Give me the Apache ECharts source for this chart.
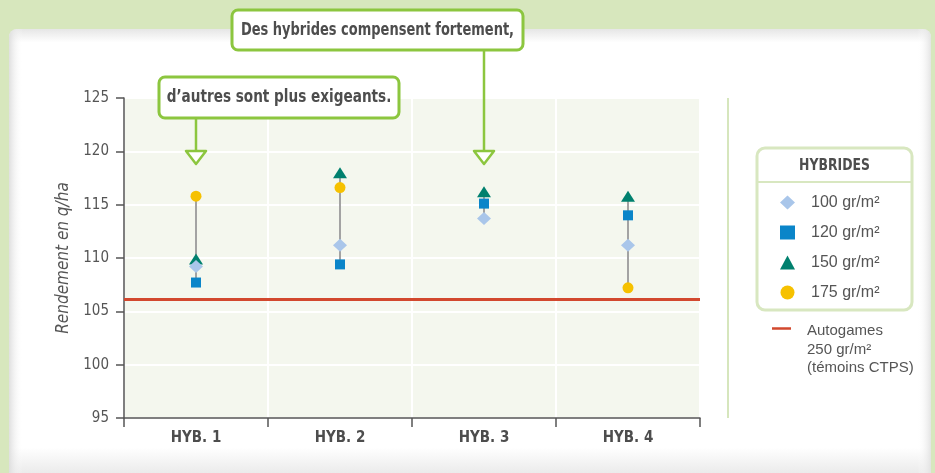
<!DOCTYPE html>
<html>
<head>
<meta charset="utf-8">
<script src="https://cdn.jsdelivr.net/npm/echarts@6/dist/echarts.min.js"></script>
<style>
html,body{margin:0;padding:0;background:#d7e7bd;}
#chart{width:935px;height:473px;}
</style>
</head>
<body>
<div id="chart"></div>
<script>
// ---- data ----
var categories = ['HYB. 1', 'HYB. 2', 'HYB. 3', 'HYB. 4'];
var seriesNames = ['100 gr/m²', '120 gr/m²', '150 gr/m²', '175 gr/m²'];
var d100 = [109.2, 111.2, 113.7, 111.2];
var d120 = [107.7, 109.4, 115.1, 114.0];
var d150 = [109.9, 118.0, 116.2, 115.8];
var d175 = [115.8, 116.6, null, 107.2];
var autogames = 106.1;
var yTicks = [95, 100, 105, 110, 115, 120, 125];
var callout1 = 'Des hybrides compensent fortement,';
var callout2 = 'd\u2019autres sont plus exigeants.';
var legendTitle = 'HYBRIDES';
var refLegend = ['Autogames', '250 gr/m²', '(témoins CTPS)'];
var yName = 'Rendement en q/ha';

var NARROW = '"DejaVu Sans Condensed","Liberation Sans Narrow",sans-serif';
var GREEN = '#8cc63f';
var TEXT = '#4d4d4d';

var allSeries = [d100, d120, d150, d175];
var ranges = categories.map(function (c, i) {
  var vals = allSeries.map(function (s) { return s[i]; }).filter(function (v) { return v != null; });
  return [i, Math.min.apply(null, vals), Math.max.apply(null, vals)];
});

var chart = echarts.init(document.getElementById('chart'), null, {renderer: 'canvas'});

var symbols = [
  {symbol: 'diamond', size: [14, 13], color: '#a9c6ea', z: 9},
  {symbol: 'rect', size: [10, 10], color: '#0a85c9', z: 7},
  {symbol: 'triangle', size: [14, 11], color: '#00806e', z: 6},
  {symbol: 'circle', size: [11, 11], color: '#f6c100', z: 5}
];

var scatterSeries = allSeries.map(function (arr, k) {
  return {
    name: seriesNames[k],
    type: 'scatter',
    data: arr,
    symbol: symbols[k].symbol,
    symbolSize: symbols[k].size,
    itemStyle: {color: symbols[k].color, opacity: 1},
    z: symbols[k].z
  };
});

function condensedText(x, y, text, font, sx, z) {
  return {type: 'text', z: z, x: x, y: y, scaleX: sx,
    style: {x: 0, y: 0, text: text, align: 'center', verticalAlign: 'middle', fill: TEXT, font: font}};
}

var option = {
  animation: false,
  backgroundColor: 'transparent',
  grid: {
    left: 124, right: 235, top: 98, bottom: 55,
    show: true, backgroundColor: '#f4f7ee', borderWidth: 0
  },
  xAxis: {
    type: 'category',
    data: categories,
    boundaryGap: true,
    axisLine: {lineStyle: {color: '#555', width: 1.5}},
    axisTick: {show: true, length: 9, lineStyle: {color: '#555', width: 1.5}},
    axisLabel: {color: TEXT, fontFamily: NARROW, fontWeight: 'bold', fontSize: 15, margin: 13},
    splitLine: {show: true, lineStyle: {color: '#ffffff', width: 2}}
  },
  yAxis: {
    type: 'value',
    min: yTicks[0], max: yTicks[yTicks.length - 1], interval: 5,
    name: yName,
    nameLocation: 'middle',
    nameGap: 50,
    nameRotate: 90,
    nameTextStyle: {color: '#555', fontFamily: NARROW, fontStyle: 'italic', fontSize: 17},
    axisLine: {show: true, lineStyle: {color: '#555', width: 1.5}},
    axisTick: {show: true, length: 8, lineStyle: {color: '#555', width: 1.5}},
    axisLabel: {color: '#555', fontFamily: NARROW, fontSize: 15, margin: 15},
    splitLine: {show: true, lineStyle: {color: '#ffffff', width: 2}}
  },
  legend: {
    orient: 'vertical',
    left: 775, top: 188,
    itemWidth: 15, itemHeight: 14, itemGap: 11,
    data: seriesNames,
    textStyle: {color: '#555', fontSize: 16, lineHeight: 19, fontFamily: '"Liberation Sans",sans-serif', padding: [0, 0, 0, 11]},
    selectedMode: false
  },
  series: [
    {
      name: 'connect',
      type: 'custom',
      data: ranges,
      z: 3,
      silent: true,
      renderItem: function (params, api) {
        var p1 = api.coord([api.value(0), api.value(1)]);
        var p2 = api.coord([api.value(0), api.value(2)]);
        return {type: 'line', shape: {x1: p1[0], y1: p1[1], x2: p2[0], y2: p2[1]},
          style: {stroke: '#a3a3a3', lineWidth: 2}};
      }
    },
    {
      name: 'Autogames',
      type: 'line',
      data: [],
      z: 4,
      markLine: {
        silent: true, symbol: 'none', label: {show: false},
        lineStyle: {color: '#d2482e', width: 3, type: 'solid'},
        data: [{yAxis: autogames}]
      }
    }
  ].concat(scatterSeries),
  graphic: [
    // card background
    {type: 'rect', z: -100, shape: {x: 9, y: 29, width: 922, height: 450, r: 8},
      style: {fill: {type: 'linear', x: 0, y: 0, x2: 0, y2: 1, colorStops: [
        {offset: 0, color: '#e6e6e6'}, {offset: 0.03, color: '#ffffff'},
        {offset: 0.93, color: '#ffffff'}, {offset: 1, color: '#e6e6e6'}]}}},
    {type: 'rect', z: -99, shape: {x: 9, y: 29, width: 922, height: 450, r: 8},
      style: {fill: {type: 'linear', x: 0, y: 0, x2: 1, y2: 0, colorStops: [
        {offset: 0, color: 'rgba(220,220,220,0.9)'}, {offset: 0.015, color: 'rgba(255,255,255,0)'},
        {offset: 0.985, color: 'rgba(255,255,255,0)'}, {offset: 1, color: 'rgba(225,225,225,0.9)'}]}}},
    // separator
    {type: 'line', z: 1, shape: {x1: 728, y1: 98, x2: 728, y2: 418}, style: {stroke: '#d6e6bd', lineWidth: 2}},
    // legend box
    {type: 'rect', z: 1, shape: {x: 757, y: 148, width: 155, height: 162, r: 8},
      style: {fill: '#ffffff', stroke: '#d8e7c0', lineWidth: 3}},
    {type: 'line', z: 1, shape: {x1: 757, y1: 182, x2: 912, y2: 182}, style: {stroke: '#d8e7c0', lineWidth: 2}},
    condensedText(834.5, 166, legendTitle, 'bold 15px ' + NARROW, 0.92, 2),
    // reference legend
    {type: 'line', z: 2, shape: {x1: 772, y1: 328.5, x2: 791, y2: 328.5}, style: {stroke: '#d2482e', lineWidth: 2.5}},
    {type: 'text', z: 2, style: {x: 807, y: 322, text: refLegend.join('\n'), lineHeight: 18.5,
      fill: '#555', font: '15px "Liberation Sans",sans-serif'}},
    // callout 1
    {type: 'line', z: 20, shape: {x1: 484, y1: 50, x2: 484, y2: 151}, style: {stroke: GREEN, lineWidth: 2.5}},
    {type: 'polygon', z: 21, shape: {points: [[474, 151], [494, 151], [484, 164]]},
      style: {fill: '#ffffff', stroke: GREEN, lineWidth: 2.5, lineJoin: 'round'}},
    {type: 'rect', z: 22, shape: {x: 232, y: 10, width: 291, height: 40, r: 6},
      style: {fill: '#ffffff', stroke: GREEN, lineWidth: 3}},
    condensedText(377.5, 31, callout1, 'bold 17px ' + NARROW, 0.85, 23),
    // callout 2
    {type: 'line', z: 20, shape: {x1: 196, y1: 118, x2: 196, y2: 151}, style: {stroke: GREEN, lineWidth: 2.5}},
    {type: 'polygon', z: 21, shape: {points: [[186, 151], [206, 151], [196, 164]]},
      style: {fill: '#ffffff', stroke: GREEN, lineWidth: 2.5, lineJoin: 'round'}},
    {type: 'rect', z: 22, shape: {x: 159, y: 77, width: 240, height: 41, r: 6},
      style: {fill: '#ffffff', stroke: GREEN, lineWidth: 3}},
    condensedText(279, 98, callout2, 'bold 17px ' + NARROW, 0.89, 23)
  ]
};
chart.setOption(option);
</script>
</body>
</html>
